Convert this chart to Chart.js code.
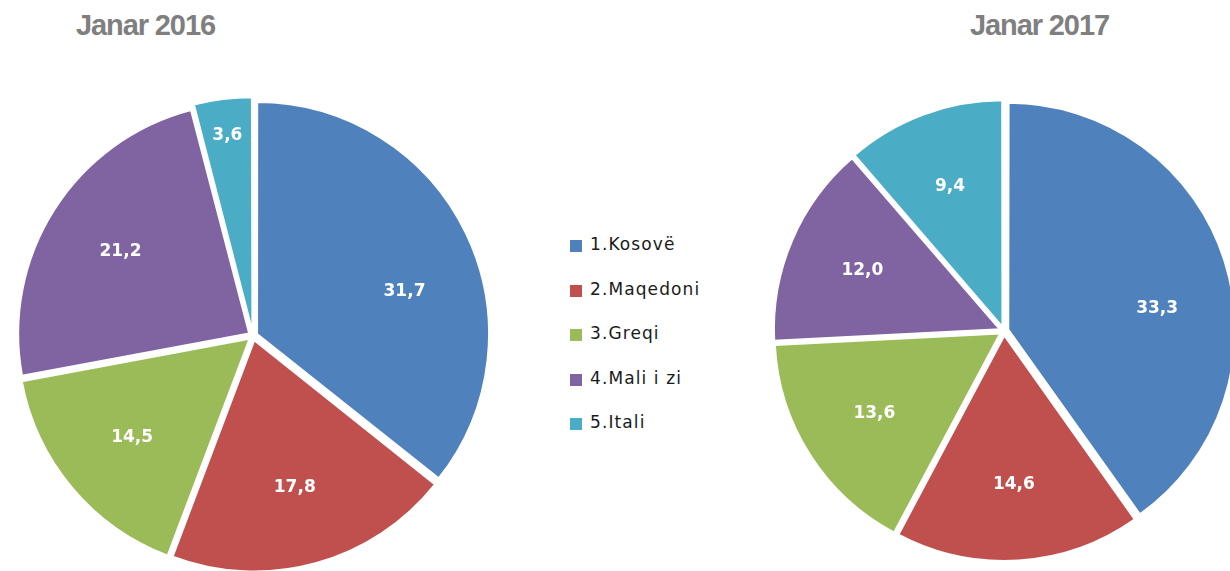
<!DOCTYPE html>
<html>
<head>
<meta charset="utf-8">
<script src="https://cdn.jsdelivr.net/npm/chart.js@4/dist/chart.umd.min.js"></script>
<style>
  html, body { margin: 0; padding: 0; background: #fff; width: 1230px; height: 571px; overflow: hidden; position: relative; }
  .title { position: absolute; font-family: "Liberation Sans", Arial, sans-serif; font-weight: bold; font-size: 29px; letter-spacing: -1.1px; color: #7f7f7f; top: 9px; white-space: nowrap; }
  #t1 { left: 76px; }
  #t2 { left: 970px; }
  canvas { position: absolute; }
  #c1 { left: 12px; top: 95px; }
  #c2 { left: 769px; top: 96px; }
  #legend { position: absolute; left: 570px; top: 234px; font-family: "DejaVu Sans", Verdana, sans-serif; font-size: 17px; letter-spacing: 1.1px; color: #1a1a1a; }
  .item { height: 44.5px; display: flex; align-items: flex-start; }
  .sw { width: 12px; height: 12px; margin-top: 6px; margin-right: 8px; }
</style>
</head>
<body>
<div class="title" id="t1"></div>
<div class="title" id="t2"></div>
<canvas id="c1" width="482" height="482"></canvas>
<canvas id="c2" width="470" height="470"></canvas>
<div id="legend"></div>
<script>
const categories = ["1.Kosovë", "2.Maqedoni", "3.Greqi", "4.Mali i zi", "5.Itali"];
const titles = ["Janar 2016", "Janar 2017"];
const values2016 = [31.7, 17.8, 14.5, 21.2, 3.6];
const values2017 = [33.3, 14.6, 13.6, 12.0, 9.4];
const colors = ["#4f81bd", "#c0504d", "#9bbb59", "#8064a2", "#4bacc6"];

document.getElementById('t1').textContent = titles[0];
document.getElementById('t2').textContent = titles[1];

const leg = document.getElementById('legend');
categories.forEach((c, i) => {
  const it = document.createElement('div'); it.className = 'item';
  const sw = document.createElement('div'); sw.className = 'sw'; sw.style.background = colors[i];
  const tx = document.createElement('span'); tx.textContent = c;
  it.appendChild(sw); it.appendChild(tx); leg.appendChild(it);
});

const labelPlugin = {
  id: 'sliceLabels',
  afterDatasetsDraw(chart) {
    const ctx = chart.ctx;
    const meta = chart.getDatasetMeta(0);
    const ds = chart.data.datasets[0];
    ctx.save();
    ctx.font = 'bold 17px "DejaVu Sans", Verdana, sans-serif';
    ctx.fillStyle = '#ffffff';
    ctx.textAlign = 'center';
    ctx.textBaseline = 'middle';
    meta.data.forEach((arc, i) => {
      const p = arc.getProps(['x', 'y', 'startAngle', 'endAngle', 'outerRadius', 'circumference'], true);
      const mid = (p.startAngle + p.endAngle) / 2;
      const off = (arc.options.offset || 0) / 4;
      const fix = 1 - Math.sin(Math.min(Math.PI, p.circumference || 0));
      const shift = off + off * fix;
      // large slices: label sits a little past the middle (best-fit style)
      const labelAngle = p.circumference > Math.PI / 2 ? mid + 0.17 : mid;
      const frac = p.circumference < 0.4 ? 0.84 : 0.66;
      const r = p.outerRadius * frac;
      const x = p.x + Math.cos(mid) * shift + Math.cos(labelAngle) * r;
      const y = p.y + Math.sin(mid) * shift + Math.sin(labelAngle) * r;
      ctx.fillText(ds.data[i].toFixed(1).replace('.', ','), x, y);
    });
    ctx.restore();
  }
};

function makePie(id, values) {
  return new Chart(document.getElementById(id), {
    type: 'pie',
    data: {
      labels: categories,
      datasets: [{
        data: values,
        backgroundColor: colors,
        borderColor: '#ffffff',
        borderWidth: 2,
        offset: 18,
        hoverOffset: 18
      }]
    },
    options: {
      responsive: false,
      devicePixelRatio: 1,
      animation: false,
      events: [],
      layout: { padding: 0 },
      plugins: { legend: { display: false }, title: { display: false }, tooltip: { enabled: false } }
    },
    plugins: [labelPlugin]
  });
}
makePie('c1', values2016);
makePie('c2', values2017);
</script>
</body>
</html>
